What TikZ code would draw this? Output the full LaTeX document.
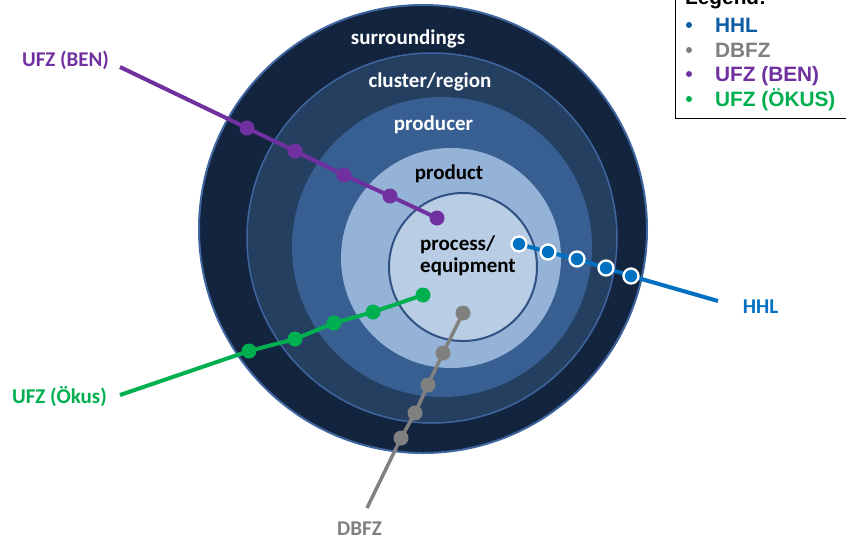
\documentclass[tikz,border=0pt]{standalone}
\usepackage{fontspec}
\setmainfont{Carlito}
\newfontfamily\legfont{Liberation Sans}
\definecolor{cOut}{HTML}{12243E}
\definecolor{cClu}{HTML}{253F61}
\definecolor{cPro}{HTML}{375F91}
\definecolor{cPrd}{HTML}{95B3D7}
\definecolor{cInn}{HTML}{B9CDE5}
\definecolor{cEdge}{HTML}{3F66A0}
\definecolor{cInEdge}{HTML}{2F5282}
\definecolor{cBen}{HTML}{7030A0}
\definecolor{cOek}{HTML}{00B050}
\definecolor{cDbfz}{HTML}{808080}
\definecolor{cHhl}{HTML}{0070C0}
\definecolor{cHhlLeg}{HTML}{0C5DA5}
\pgfdeclarelayer{rings}
\pgfdeclarelayer{links}
\pgfsetlayers{rings,links,main}
\begin{document}
\begin{tikzpicture}[x=1pt,y=-1pt,
  lbl/.style={font=\fontsize{21}{25}\selectfont\bfseries, anchor=base, inner sep=0pt},
  ringtxt/.style={lbl, text=white},
  coretxt/.style={lbl, text=black},
  dotbase/.style={circle, inner sep=0pt, minimum size=15pt},
  bendot/.style={dotbase, fill=cBen},
  oekdot/.style={dotbase, fill=cOek},
  dbfzdot/.style={dotbase, fill=cDbfz},
  hhldot/.style={dotbase, fill=cHhl, draw=white, line width=2.3pt},
  link/.style={line width=4pt},
  legtxt/.style={font=\legfont\fontsize{20.8}{25}\selectfont\bfseries, anchor=base west, inner sep=0pt},
  legdot/.style={circle, inner sep=0pt, minimum size=6pt}
]
\useasboundingbox (0,0) rectangle (846,542);

\begin{pgfonlayer}{rings}
\fill[cOut, draw=cEdge, line width=2pt] (423,229) circle[radius=224pt];
\fill[cClu, draw=cEdge, line width=1.5pt] (432,238) circle[radius=185pt];
\fill[cPro] (442,247) circle[radius=150pt];
\fill[cPrd] (451,258) circle[radius=110pt];
\fill[cInn, draw=cInEdge, line width=2pt] (463,267) circle[radius=74pt];
\end{pgfonlayer}

% ring labels
\node[ringtxt] (tsur) at (408,44) {surroundings};
\node[ringtxt] (tclu) at (430,87) {cluster/region};
\node[ringtxt] (tpro) at (433.5,130) {producer};
\node[coretxt] (tprd) at (449,179) {product};
\node[coretxt, anchor=base west] (tpr1) at (420,250) {process/};
\node[coretxt, anchor=base west] (tpr2) at (420,272) {equipment};

% outside labels
\node[lbl, text=cBen] (lben) at (65.5,66) {UFZ (BEN)};
\node[lbl, text=cOek] (loek) at (59.5,403) {UFZ (Ökus)};
\node[lbl, text=cHhl] (lhhl) at (760.5,313) {HHL};
\node[lbl, text=cDbfz] (ldbfz) at (359.5,535) {DBFZ};

% free ends
\coordinate (eben) at (120,67);
\coordinate (eoek) at (120,395);
\coordinate (ehhl) at (718,301);
\coordinate (edbfz) at (367,508);

% dots
\node[bendot] (b1) at (247,128) {};
\node[bendot] (b2) at (295,151) {};
\node[bendot] (b3) at (344,175) {};
\node[bendot] (b4) at (390,196) {};
\node[bendot] (b5) at (437,218) {};

\node[oekdot] (g1) at (249,351) {};
\node[oekdot] (g2) at (295,339) {};
\node[oekdot] (g3) at (334,323) {};
\node[oekdot] (g4) at (373,312) {};
\node[oekdot] (g5) at (423,295) {};

\node[dbfzdot] (d1) at (401,438) {};
\node[dbfzdot] (d2) at (415,413) {};
\node[dbfzdot] (d3) at (428,385) {};
\node[dbfzdot] (d4) at (443,353) {};
\node[dbfzdot] (d5) at (463,313) {};

\node[hhldot] (h1) at (519,244) {};
\node[hhldot] (h2) at (548,252) {};
\node[hhldot] (h3) at (577,259) {};
\node[hhldot] (h4) at (606,268) {};
\node[hhldot] (h5) at (631,276) {};

\begin{pgfonlayer}{links}
\draw[link, cBen] (eben) -- (b1.center) -- (b2.center) -- (b3.center) -- (b4.center) -- (b5.center);
\draw[link, cOek] (eoek) -- (g1.center) -- (g2.center) -- (g3.center) -- (g4.center) -- (g5.center);
\draw[link, cDbfz, line width=3.5pt] (edbfz) -- (d1.center) -- (d2.center) -- (d3.center) -- (d4.center) -- (d5.center);
\draw[link, cHhl] (h1.center) -- (h2.center) -- (h3.center) -- (h4.center) -- (h5.center) -- (ehhl);
\end{pgfonlayer}

% legend
\draw[fill=white, draw=black, line width=1pt] (675,-20) rectangle (860,118);
\node[legtxt, text=black] (lgt) at (685,4.5) {Legend:};
\node[legdot, fill=cHhlLeg] (m1) at (689,25) {};
\node[legdot, fill=cDbfz] (m2) at (689,50) {};
\node[legdot, fill=cBen] (m3) at (689,74) {};
\node[legdot, fill=cOek] (m4) at (689,99) {};
\node[legtxt, text=cHhlLeg] (k1) at (715,32) {HHL};
\node[legtxt, text=cDbfz] (k2) at (715,57) {DBFZ};
\node[legtxt, text=cBen] (k3) at (715,81) {UFZ (BEN)};
\node[legtxt, text=cOek] (k4) at (715,106) {UFZ (ÖKUS)};
\end{tikzpicture}
\end{document}
